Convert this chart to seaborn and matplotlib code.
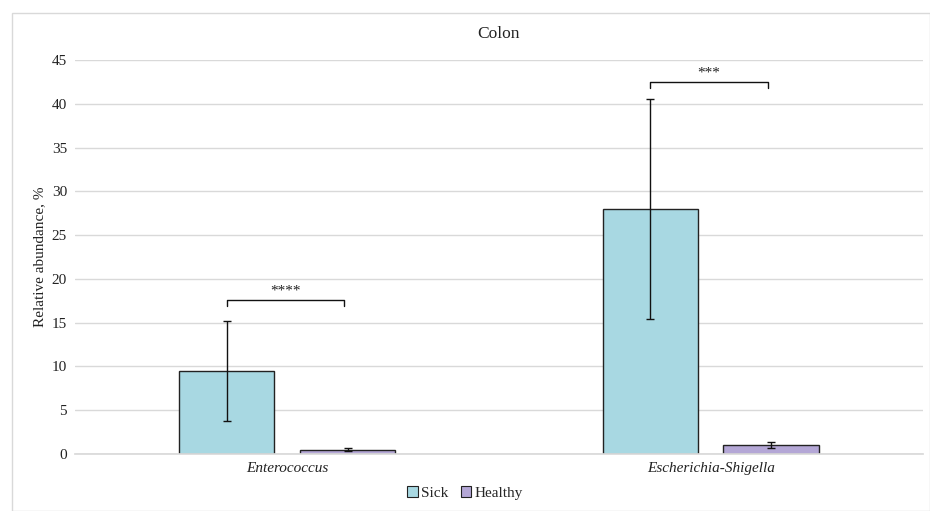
import numpy as np
import pandas as pd
import seaborn as sns
import matplotlib.pyplot as plt
from matplotlib.patches import Rectangle

# Data
genera = ["Enterococcus", "Escherichia-Shigella"]
groups = ["Sick", "Healthy"]
sick_mean = [9.5, 28.0]
sick_err = [5.7, 12.6]
healthy_mean = [0.5, 1.0]
healthy_err = [0.15, 0.35]
stars = ["****", "***"]
bracket_y = [17.6, 42.5]

colors = {"Sick": "#A8D8E2", "Healthy": "#B4A7D6"}

df = pd.DataFrame({
    "genus": genera * 2,
    "group": ["Sick"] * 2 + ["Healthy"] * 2,
    "value": sick_mean + healthy_mean,
    "err": sick_err + healthy_err,
})

sns.set_theme(style="white")
plt.rcParams['font.family'] = ['Liberation Serif', 'DejaVu Serif']

fig = plt.figure(figsize=(9.3, 5.11), dpi=100)
ax = fig.add_axes([0.081, 0.1115, 0.911, 0.7711])

sns.barplot(data=df, x="genus", y="value", hue="group", hue_order=groups,
            palette=colors, saturation=1, width=0.57, gap=0.21,
            edgecolor="#222222", linewidth=1.0, errorbar=None, legend=False,
            ax=ax)

# error bars at the bar centres seaborn used
centers = {}
for cont, g in zip(ax.containers, groups):
    sub = df[df["group"] == g]
    for bar, (_, row) in zip(cont, sub.iterrows()):
        cx = bar.get_x() + bar.get_width() / 2
        centers[(g, row["genus"])] = cx
        ax.errorbar(cx, row["value"], yerr=row["err"], fmt="none",
                    ecolor="#111111", elinewidth=1.0, capsize=3, capthick=1.0)

# significance brackets
for gen, s, by in zip(genera, stars, bracket_y):
    x1 = centers[("Sick", gen)]
    x2 = centers[("Healthy", gen)] - 0.008
    ax.plot([x1, x1, x2, x2], [by - 0.7, by, by, by - 0.7],
            color="#111111", lw=1.0)
    ax.text((x1 + x2) / 2, by + 0.3, s, ha="center", va="bottom",
            fontsize=11, color="#222222")

ax.set_ylim(0, 45)
ax.set_xlim(-0.5, 1.5)
ax.set_yticks(np.arange(0, 46, 5))
ax.yaxis.grid(True, color="#D9D9D9", lw=1.0)
ax.set_axisbelow(True)
for sp in ["top", "right", "left"]:
    ax.spines[sp].set_visible(False)
ax.spines["bottom"].set_color("#D9D9D9")
ax.tick_params(axis="both", length=0, labelsize=11, colors="#222222", pad=6)
for lab in ax.get_xticklabels():
    lab.set_fontstyle("italic")
ax.set_xlabel("")
ax.set_ylabel("Relative abundance, %", fontsize=11, color="#222222", labelpad=4)
ax.set_title("Colon", fontsize=12.5, color="#222222", pad=16)

handles = [Rectangle((0, 0), 1, 1, facecolor=colors[g], edgecolor="#222222", lw=0.8)
           for g in groups]
fig.legend(handles, groups, loc="center", bbox_to_anchor=(0.5, 0.035), ncol=2,
           frameon=False, fontsize=11, handlelength=0.7, handleheight=0.7,
           handletextpad=0.2, columnspacing=0.8)

# light chart border
fig.patches.append(Rectangle((12 / 930, 0.0), 1 - 12 / 930, 1 - 13 / 511,
                             transform=fig.transFigure, fill=False,
                             edgecolor="#D9D9D9", lw=1.0))

fig.savefig("out.png", dpi=100, facecolor="white")
